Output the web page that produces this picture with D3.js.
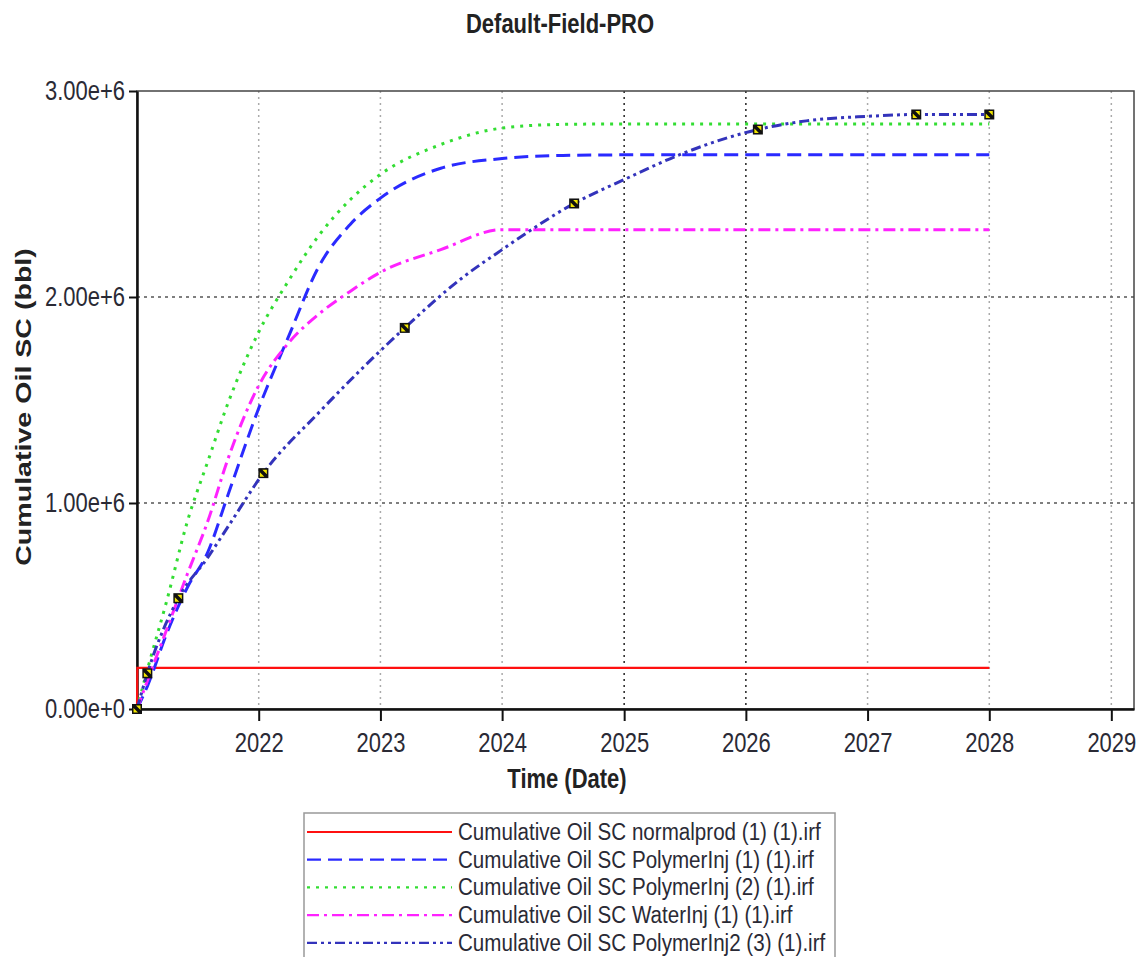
<!DOCTYPE html>
<html>
<head>
<meta charset="utf-8">
<script src="https://cdn.jsdelivr.net/npm/d3@7"></script>
<style>
  body { margin: 0; background: #fff; }
  svg { display: block; font-family: "Liberation Sans", Arial, sans-serif; }
</style>
</head>
<body>
<div class="container"></div>
<script>
// ---- data ----
const curveDates = ["2021-01-01", "2021-02-01", "2021-04-01", "2021-06-01", "2021-08-01", "2021-10-01",
  "2022-01-01", "2022-04-01", "2022-07-01", "2022-10-01", "2023-01-01", "2023-07-01",
  "2024-01-01", "2024-07-01", "2025-01-01", "2028-01-01"]
const polymer1Values = [0, 110000, 370000, 590000, 760000, 1040000, 1460000, 1810000, 2150000, 2350000,
  2480000, 2625000, 2672000, 2687000, 2690000, 2690000]
const polymer2Values = [0, 190000, 530000, 910000, 1200000, 1485000, 1830000, 2080000, 2300000, 2470000,
  2595000, 2740000, 2820000, 2838000, 2840000, 2840000]
const waterValues = [0, 136000, 390000, 655000, 910000, 1215000, 1570000, 1778000, 1918000, 2026000,
  2120000, 2230000, 2327000, 2327000, 2327000, 2327000]

const normalDates = ["2021-01-01", "2021-01-02", "2028-01-01"]
const normalValues = [0, 200000, 200000]

const polymer3Dates = ["2021-01-01", "2021-02-01", "2021-05-05", "2021-08-01", "2021-10-01", "2022-01-15",
  "2022-07-01", "2023-03-15", "2023-09-01", "2024-01-01", "2024-08-04", "2025-01-01", "2025-07-01",
  "2026-02-06", "2026-07-01", "2027-01-01", "2027-05-27", "2028-01-01"]
const polymer3Values = [0, 173000, 538000, 735000, 885000, 1145000, 1440000, 1850000, 2090000, 2230000,
  2454000, 2570000, 2700000, 2813000, 2855000, 2877000, 2886000, 2886000]
const markerDates = ["2021-01-01", "2021-02-01", "2021-05-05", "2022-01-15", "2023-03-15", "2024-08-04",
  "2026-02-06", "2027-05-27", "2028-01-01"]

const seriesNames = [
  "Cumulative Oil SC normalprod (1) (1).irf",
  "Cumulative Oil SC PolymerInj (1) (1).irf",
  "Cumulative Oil SC PolymerInj (2) (1).irf",
  "Cumulative Oil SC WaterInj (1) (1).irf",
  "Cumulative Oil SC PolymerInj2 (3) (1).irf"
]
const xTickYears = [2022, 2023, 2024, 2025, 2026, 2027, 2028, 2029]
const yTickValues = [0, 1000000, 2000000, 3000000]

// ---- layout ----
const w = 1147
const h = 957
const pL = 137, pR = 1134, pT = 91, pB = 709
const sy = 1.22   // source picture is stretched vertically
const parse = d3.timeParse("%Y-%m-%d")

const svg = d3.select(".container").append("svg").attr("width", w).attr("height", h)

const x = d3.scaleTime().domain([parse("2021-01-01"), parse("2029-03-10")]).range([pL, pR])
const y = d3.scaleLinear().domain([0, 3000000]).range([pB, pT])

// grid
const darkYears = [2025, 2026]
svg.append("g").selectAll("line").data(xTickYears).enter().append("line")
  .attr("x1", d => x(new Date(d, 0, 1))).attr("x2", d => x(new Date(d, 0, 1)))
  .attr("y1", pT).attr("y2", pB)
  .attr("stroke", d => darkYears.includes(d) ? "#222" : "#aaa")
  .attr("stroke-width", 1.5).attr("stroke-dasharray", "2,4")
svg.append("g").selectAll("line").data(yTickValues.slice(1, 3)).enter().append("line")
  .attr("x1", pL).attr("x2", pR).attr("y1", d => y(d)).attr("y2", d => y(d))
  .attr("stroke", "#555").attr("stroke-width", 1.5).attr("stroke-dasharray", "3,4")

// frame
svg.append("rect").attr("x", pL).attr("y", pT).attr("width", pR - pL).attr("height", pB - pT)
  .attr("fill", "none").attr("stroke", "#444").attr("stroke-width", 1.5)

// axes
const xAxis = d3.axisBottom(x).tickValues(xTickYears.map(d => new Date(d, 0, 1)))
  .tickFormat(d3.timeFormat("%Y")).tickSize(12).tickSizeOuter(0)
const gx = svg.append("g").attr("transform", `translate(0,${pB})`).call(xAxis)
gx.select(".domain").attr("stroke", "#111").attr("stroke-width", 2.5)
gx.selectAll(".tick line").attr("stroke", "#111").attr("stroke-width", 2)
gx.selectAll(".tick text").attr("y", 0).attr("dy", 0)
  .attr("transform", `translate(0,${43}) scale(1,${sy})`)
  .attr("font-size", 22).attr("fill", "#2a2a35").attr("font-family", "Liberation Sans, Arial, sans-serif")

const yAxis = d3.axisLeft(y).tickValues(yTickValues).tickFormat(d3.format(".2e")).tickSize(8).tickSizeOuter(0)
const gy = svg.append("g").attr("transform", `translate(${pL},0)`).call(yAxis)
gy.select(".domain").attr("stroke", "#111").attr("stroke-width", 2.5)
gy.selectAll(".tick line").attr("stroke", "#111").attr("stroke-width", 2)
gy.selectAll(".tick text").attr("x", 0).attr("dy", 0)
  .attr("transform", `translate(-12,8) scale(1,${sy})`)
  .attr("font-size", 22).attr("fill", "#2a2a35").attr("font-family", "Liberation Sans, Arial, sans-serif")

// titles
svg.append("text").attr("transform", `translate(560,33) scale(1,${sy})`).attr("text-anchor", "middle")
  .attr("font-size", 22).attr("font-weight", "bold").attr("fill", "#222").text("Default-Field-PRO")
svg.append("text").attr("transform", `translate(567,788) scale(1,${sy})`).attr("text-anchor", "middle")
  .attr("font-size", 22).attr("font-weight", "bold").attr("fill", "#222").text("Time (Date)")
svg.append("text").attr("transform", `translate(31,407) rotate(-90) scale(${sy + 0.08},1)`).attr("text-anchor", "middle")
  .attr("font-size", 22).attr("font-weight", "bold").attr("fill", "#222").text("Cumulative Oil SC (bbl)")

// series
const toPts = (dates, vals) => dates.map((d, i) => ({ date: parse(d), value: vals[i] }))
const series = [
  { name: seriesNames[0], pts: toPts(normalDates, normalValues), color: "#ff1010", dash: null, curve: d3.curveLinear },
  { name: seriesNames[1], pts: toPts(curveDates, polymer1Values), color: "#2a2aff", dash: "14,7", curve: d3.curveMonotoneX },
  { name: seriesNames[2], pts: toPts(curveDates, polymer2Values), color: "#33dd33", dash: "3,6", curve: d3.curveMonotoneX },
  { name: seriesNames[3], pts: toPts(curveDates, waterValues), color: "#ff22ff", dash: "12,5,3,5", curve: d3.curveMonotoneX },
  { name: seriesNames[4], pts: toPts(polymer3Dates, polymer3Values), color: "#3333bb", dash: "10,4,3,4,3,4", curve: d3.curveMonotoneX }
]

const plot = svg.append("g")
series.forEach(s => {
  const line = d3.line().x(d => x(d.date)).y(d => y(d.value)).curve(s.curve)
  plot.append("path").datum(s.pts).attr("d", line)
    .attr("fill", "none").attr("stroke", s.color).attr("stroke-width", s.dash ? 3 : 2.2)
    .attr("stroke-dasharray", s.dash)
})

// markers on PolymerInj2 (3)
const markerPts = markerDates.map(d => ({ date: parse(d), value: polymer3Values[polymer3Dates.indexOf(d)] }))
const mk = plot.selectAll(".marker").data(markerPts).enter().append("g").attr("class", "marker")
  .attr("transform", d => `translate(${x(d.date)},${y(d.value)})`)
mk.append("rect").attr("x", -5).attr("y", -5).attr("width", 10).attr("height", 10).attr("fill", "#111")
mk.append("path").attr("d", "M-3.5,3.5 L-3.5,-1 L1,3.5 Z M-1,-3.5 L3.5,1 L3.5,-3.5 Z").attr("fill", "#f2e600")

// legend
const legend = svg.append("g").attr("transform", "translate(304,813)")
legend.append("rect").attr("width", 531).attr("height", 160).attr("fill", "#fff")
  .attr("stroke", "#999").attr("stroke-width", 1.5)
const item = legend.selectAll(".legend-item").data(series).enter().append("g").attr("class", "legend-item")
  .attr("transform", (d, i) => `translate(0,${19 + i * 27.7})`)
item.append("line").attr("x1", 3).attr("x2", 148).attr("y1", 0).attr("y2", 0)
  .attr("stroke", d => d.color).attr("stroke-width", 2.2).attr("stroke-dasharray", d => d.dash)
item.append("text").attr("transform", `translate(154,8) scale(1,1.14)`)
  .attr("font-size", 20.6).attr("fill", "#2a2a35").text(d => d.name)
</script>
</body>
</html>
